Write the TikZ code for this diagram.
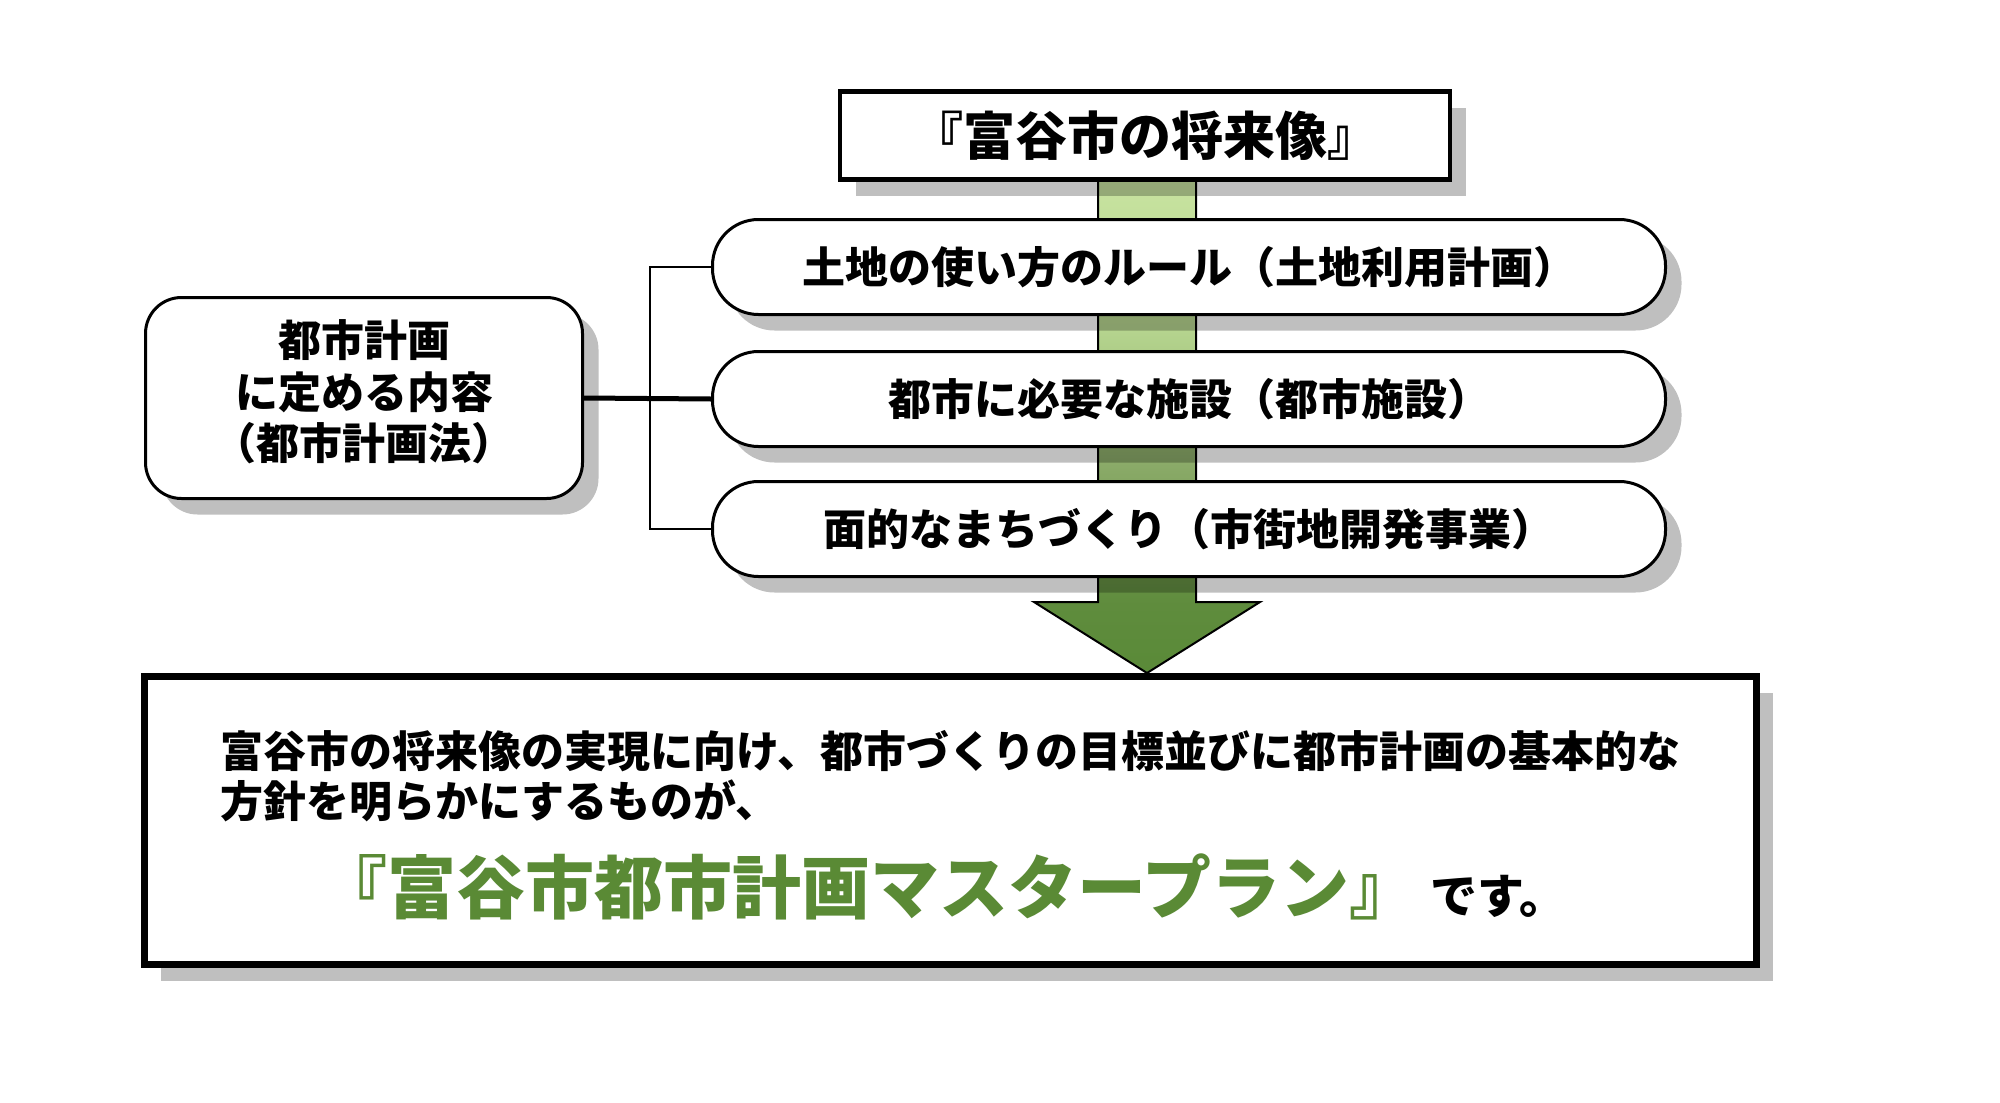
\documentclass[tikz,border=0pt]{standalone}
\usepackage{fontspec}
\setmainfont{Noto Sans CJK JP}
\usetikzlibrary{shadows}
\definecolor{agA}{HTML}{5A8A38}
\definecolor{agB}{HTML}{5F8C3D}
\definecolor{agC}{HTML}{8AAA68}
\definecolor{agD}{HTML}{B6D58F}
\definecolor{agE}{HTML}{C8E3A0}
\definecolor{plangreen}{HTML}{5A8A35}
\pgfdeclareverticalshading{arrowshade}{100bp}{color(0bp)=(agA); color(25bp)=(agA); color(32bp)=(agB); color(46bp)=(agC); color(60bp)=(agD); color(75bp)=(agE); color(100bp)=(agE)}
\tikzset{
  shadowed/.style={drop shadow={shadow xshift=16pt, shadow yshift=-16pt, opacity=0.25, fill=black}},
  titlebox/.style={draw, fill=white, line width=4.5pt, minimum width=610pt, minimum height=88pt,
    inner sep=0pt, shadowed, font=\fontsize{52pt}{60pt}\selectfont\bfseries, text height=46pt, text depth=6pt},
  pill/.style={draw, fill=white, line width=3pt, rounded corners=46pt, minimum width=953pt,
    minimum height=95pt, inner sep=0pt, shadowed, font=\fontsize{43pt}{50pt}\selectfont\bfseries,
    text height=38pt, text depth=5pt},
  lawbox/.style={draw, fill=white, line width=3pt, rounded corners=36pt, minimum width=437pt,
    minimum height=201pt, inner sep=0pt, shadowed},
  lawtext/.style={align=center, inner sep=0pt, font=\fontsize{43pt}{51.5pt}\selectfont\bfseries},
  mainbox/.style={draw, fill=white, line width=7pt, minimum width=1612pt, minimum height=288pt,
    inner sep=0pt, shadowed},
  bodytext/.style={inner sep=0pt, font=\fontsize{43pt}{50pt}\selectfont\bfseries},
  desutext/.style={inner sep=0pt, font=\fontsize{47pt}{54pt}\selectfont\bfseries},
  plantext/.style={inner sep=0pt, font=\fontsize{69pt}{80pt}\selectfont\bfseries},
  thinlink/.style={draw, line width=2.5pt},
  thicklink/.style={draw, line width=5pt},
}
\begin{document}
\begin{tikzpicture}[x=1pt,y=-1pt]
\useasboundingbox (0,0) rectangle (2000,1103);
\fill[white] (0,0) rectangle (2000,1103);

% big arrow behind the boxes
\draw[line width=2pt, shade, shading=arrowshade, line join=miter]
  (1098,180) -- (1098,602) -- (1034,602) -- (1147,673) -- (1260,602) -- (1196,602) -- (1196,180) -- cycle;

% boxes
\node[titlebox] (title) at (1145,135.5) {『富谷市の将来像』};
\node[pill] (p1) at (1189,267) {土地の使い方のルール（土地利用計画）};
\node[pill] (p2) at (1189,399) {都市に必要な施設（都市施設）};
\node[pill] (p3) at (1189,529) {面的なまちづくり（市街地開発事業）};
\node[lawbox] (law) at (364,398) {};
\node[lawtext] (lawt) at (364,392) {都市計画\\に定める内容\\（都市計画法）};
\node[mainbox] (main) at (950.5,820.5) {};

% connectors
\coordinate (bus) at (650,0);
\draw[thinlink] (p1.west) -- (p1.west -| bus) |- (p3.west);
\draw[thicklink] (law.east) -- (p2.west);

% texts in the main box
\node[bodytext, anchor=base west] (l1) at (220,767) {富谷市の将来像の実現に向け、都市づくりの目標並びに都市計画の基本的な};
\node[bodytext, anchor=base west] (l2) at (220,817) {方針を明らかにするものが、};
\node[plantext, anchor=base west, text=plangreen] (plan) at (318,913) {『富谷市都市計画マスタープラン』};
\node[desutext, anchor=base west] (desu) at ([xshift=12pt]plan.base east) {です。};
\end{tikzpicture}
\end{document}
